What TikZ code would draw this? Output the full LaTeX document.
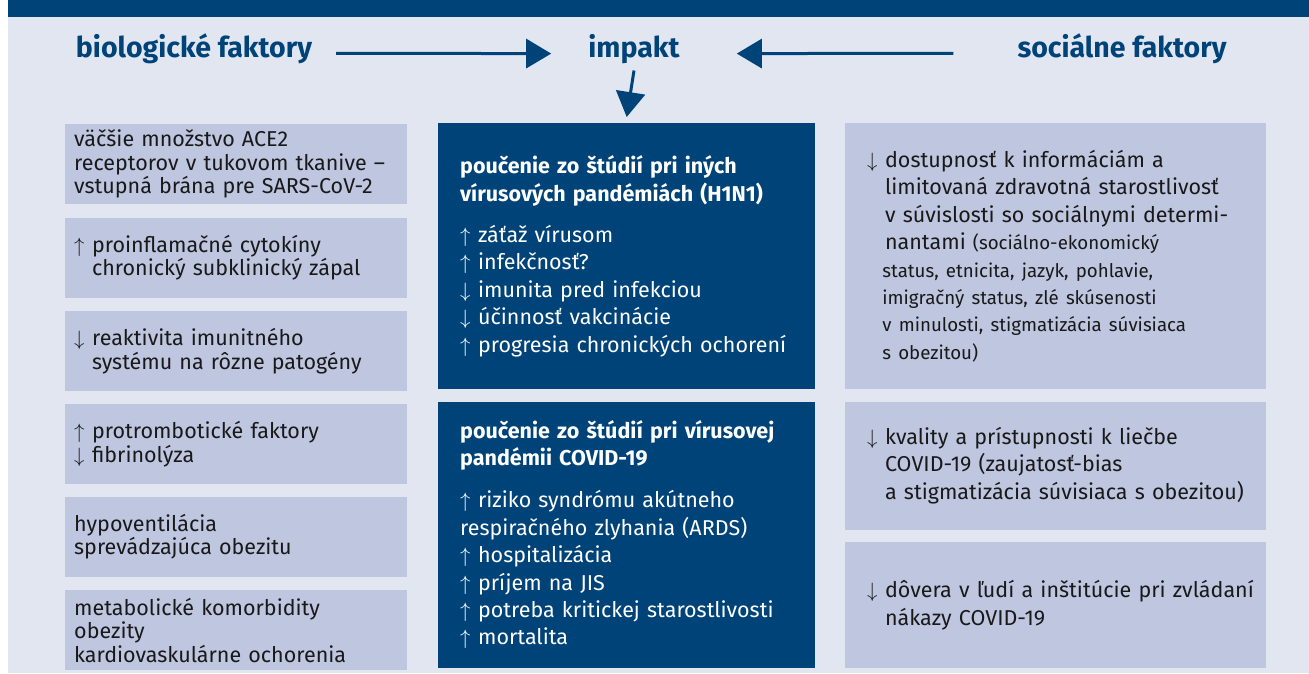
\documentclass[tikz,border=0pt]{standalone}
\usepackage{fontspec}
\setmainfont{Fira Sans}
\usetikzlibrary{positioning}
\usetikzlibrary{arrows.meta, calc}
\definecolor{navy}{RGB}{0,67,121}
\definecolor{paleblue}{RGB}{225,230,241}
\definecolor{boxblue}{RGB}{190,198,224}
\newcommand{\upa}{$\uparrow$\hspace{0.35em}}
\newcommand{\dna}{$\downarrow$\hspace{0.35em}}
\newcommand{\ind}{\hphantom{\upa}}

\begin{document}
\begin{tikzpicture}[x=1pt, y=-1pt, >={Triangle[length=25pt,width=29pt]}, font=\fontsize{21.5}{23.5}\selectfont]%
            \tikzstyle{head} = [font=\fontsize{28.5}{30}\selectfont\bfseries, text=navy, inner sep=0pt, anchor=base]
            \tikzstyle{box} = [anchor=north west, align=left, inner ysep=0pt, execute at begin node={\rightskip=-60pt plus 1fil}]
            \tikzstyle{bio} = [box, fill=boxblue, text=black!90, inner xsep=9pt, text width=324pt, minimum height=80pt]
            \tikzstyle{imp} = [box, fill=navy, text=white, inner xsep=22pt, text width=333pt, minimum height=266pt, font=\fontsize{21.5}{27.4}\selectfont]
            \tikzstyle{soc} = [box, fill=boxblue, text=black!90, inner xsep=22pt, text width=377pt, font=\fontsize{21.5}{27.4}\selectfont]
            \tikzstyle{post} = [->, line width=3pt, draw=navy]
        %%
            \useasboundingbox (0,0) rectangle (1309,673);
            \fill[paleblue] (8,0) rectangle (1309,673);
            \fill[navy] (8,0) rectangle (1309,17);
        %%
            %% Headings
            \node [head] (biohead) at (194,57) {biologické faktory};
            \node [head] (imphead) at (634,57) {impakt};
            \node [head] (sochead) at (1122,57) {sociálne faktory};

            \draw[post] ([xshift=24pt, yshift=-5pt]biohead.east) -- ([xshift=-37pt, yshift=-5pt]imphead.west);
            \draw[post] ([xshift=-64pt, yshift=-5pt]sochead.west) -- ([xshift=57pt, yshift=-5pt]imphead.east);

            \begin{scope}[node distance = 13pt]%
                %% Biological factors
                \node [bio] (ace) at (65,124) {väčšie množstvo ACE2\\receptorov v tukovom tkanive –\\vstupná brána pre SARS-CoV-2};
                \node [bio] (cyto) [below = of ace] {\upa proinflamačné cytokíny\\\ind chronický subklinický zápal};
                \node [bio] (immun) [below = of cyto] {\dna reaktivita imunitného\\\ind systému na rôzne patogény};
                \node [bio] (throm) [below = of immun] {\upa protrombotické faktory\\\dna fibrinolýza};
                \node [bio] (hypo) [below = 12pt of throm] {hypoventilácia\\sprevádzajúca obezitu};
                \node [bio] (meta) [below = of hypo] {metabolické komorbidity\\obezity\\kardiovaskulárne ochorenia};
            \end{scope}%

            \begin{scope}[node distance = 12pt]%
                %% Impact
                \node [imp] (hini) at (438,123) {{\bfseries poučenie zo štúdií pri iných\\vírusových pandémiách (H1N1)}\\[14pt]
                    \upa záťaž vírusom\\\upa infekčnosť?\\\dna imunita pred infekciou\\\dna účinnosť vakcinácie\\\upa progresia chronických ochorení};
                \node [imp] (covid) [below = of hini] {{\bfseries poučenie zo štúdií pri vírusovej\\pandémii COVID-19}\\[15pt]
                    \upa riziko syndrómu akútneho\\respiračného zlyhania (ARDS)\\\upa hospitalizácia\\\upa príjem na JIS\\\upa potreba kritickej starostlivosti\\\upa mortalita};

                \draw[post] ([yshift=-7pt]imphead.south) -- ([yshift=6pt]hini.north);

                %% Social factors
                \node [soc, minimum height=266pt] (access) at (845,123) {\dna dostupnosť k informáciám a\\\ind limitovaná zdravotná starostlivosť\\\ind v súvislosti so sociálnymi determi-\\\ind nantami {\fontsize{18.7}{27.4}\selectfont (sociálno-ekonomický\\\ind status, etnicita, jazyk, pohlavie,\\\ind imigračný status, zlé skúsenosti\\\ind v minulosti, stigmatizácia súvisiaca\\\ind s obezitou)}};
                \node [soc, minimum height=128pt] (care) [below = of access] {\dna kvality a prístupnosti k liečbe\\\ind COVID-19 (zaujatosť-bias\\\ind a stigmatizácia súvisiaca s obezitou)};
                \node [soc, minimum height=126pt] (trust) [below = of care] {\dna dôvera v ľudí a inštitúcie pri zvládaní\\\ind nákazy COVID-19};
            \end{scope}%
        \end{tikzpicture}
\end{document}
